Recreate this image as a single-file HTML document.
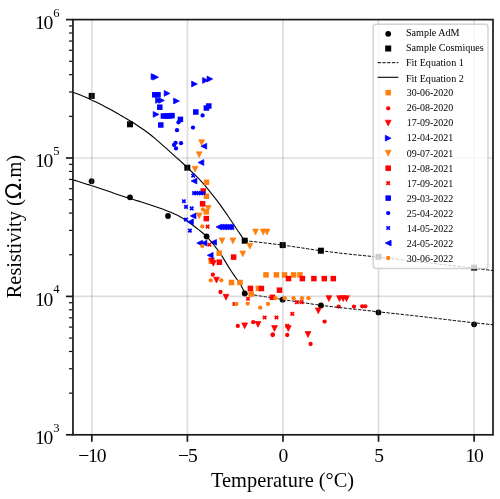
<!DOCTYPE html>
<html><head><meta charset="utf-8"><title>Resistivity vs Temperature</title>
<style>
html,body{margin:0;padding:0;background:#fff}
svg{display:block}
text{font-family:"Liberation Serif","Times New Roman",serif;fill:#000}
.lg{font-size:10.15px}
.tk{font-size:19.6px;letter-spacing:-1.1px}
.ax{font-size:20.4px}
</style></head><body>
<svg width="500" height="499" viewBox="0 0 500 499">
<rect width="500" height="499" fill="#fff"/>
<circle cx="338.70" cy="306.60" r="2.15" fill="#ff0000"/>
<circle cx="354.00" cy="306.60" r="2.15" fill="#ff0000"/>
<circle cx="362.20" cy="306.30" r="2.15" fill="#ff0000"/>
<circle cx="365.30" cy="306.30" r="2.15" fill="#ff0000"/>
<path d="M216.50 239.40V245.20L210.70 242.30Z" fill="#0000ff" stroke="#0000ff" stroke-width="0.7"/>
<path d="M72.5 92.0 L75.5 93.2 L78.5 94.3 L81.5 95.6 L84.5 96.8 L87.5 98.1 L90.5 99.5 L93.5 100.9 L96.5 102.3 L99.5 103.8 L102.5 105.3 L105.5 106.9 L108.5 108.5 L111.5 110.1 L114.5 111.7 L117.5 113.4 L120.5 115.2 L123.5 116.9 L126.5 118.7 L129.5 120.5 L132.5 122.3 L135.5 124.2 L138.5 126.2 L141.5 128.2 L144.5 130.3 L147.5 132.5 L150.5 134.8 L153.5 137.2 L156.5 139.8 L159.5 142.4 L162.5 145.1 L165.5 147.7 L168.5 150.4 L171.5 153.1 L174.5 155.8 L177.5 158.5 L180.5 161.2 L183.5 164.0 L186.5 166.9 L189.5 169.7 L192.5 172.5 L195.5 175.4 L198.5 178.4 L201.5 181.6 L204.5 184.9 L207.5 188.6 L210.5 192.3 L213.5 196.1 L216.5 199.9 L219.5 203.9 L222.5 208.1 L225.5 212.4 L228.5 216.7 L231.5 221.2 L234.5 225.7 L237.5 230.2 L240.5 234.6 L243.5 239.0 L244.6 240.6" fill="none" stroke="#000" stroke-width="1.1"/>
<path d="M72.5 179.7 L75.5 180.6 L78.5 181.6 L81.5 182.5 L84.5 183.4 L87.5 184.4 L90.5 185.3 L93.5 186.3 L96.5 187.3 L99.5 188.3 L102.5 189.3 L105.5 190.3 L108.5 191.3 L111.5 192.3 L114.5 193.4 L117.5 194.4 L120.5 195.4 L123.5 196.4 L126.5 197.4 L129.5 198.3 L132.5 199.3 L135.5 200.2 L138.5 201.1 L141.5 202.0 L144.5 202.9 L147.5 203.9 L150.5 204.9 L153.5 205.9 L156.5 206.9 L159.5 208.0 L162.5 209.1 L165.5 210.2 L168.5 211.4 L171.5 212.6 L174.5 213.9 L177.5 215.3 L180.5 216.9 L183.5 218.7 L186.5 220.6 L189.5 222.7 L192.5 225.0 L195.5 227.3 L198.5 229.6 L201.5 232.0 L204.5 234.5 L207.5 237.4 L210.5 240.8 L213.5 244.5 L216.5 248.3 L219.5 252.4 L222.5 256.9 L225.5 261.9 L228.5 266.9 L231.5 271.5 L234.5 275.9 L237.5 280.2 L240.5 284.2 L243.5 290.2 L244.7 293.5" fill="none" stroke="#000" stroke-width="1.1"/>
<path d="M244.6 240.6 L247.6 240.9 L250.6 241.3 L253.6 241.6 L256.6 241.9 L259.6 242.3 L262.6 242.7 L265.6 243.0 L268.6 243.4 L271.6 243.8 L274.6 244.1 L277.6 244.5 L280.6 244.9 L283.6 245.3 L286.6 245.7 L289.6 246.1 L292.6 246.5 L295.6 247.0 L298.6 247.4 L301.6 247.9 L304.6 248.3 L307.6 248.8 L310.6 249.2 L313.6 249.7 L316.6 250.1 L319.6 250.5 L322.6 250.9 L325.6 251.3 L328.6 251.7 L331.6 252.1 L334.6 252.4 L337.6 252.8 L340.6 253.2 L343.6 253.5 L346.6 253.8 L349.6 254.2 L352.6 254.5 L355.6 254.8 L358.6 255.1 L361.6 255.4 L364.6 255.7 L367.6 256.0 L370.6 256.3 L373.6 256.7 L376.6 257.0 L379.6 257.3 L382.6 257.6 L385.6 258.0 L388.6 258.3 L391.6 258.6 L394.6 259.0 L397.6 259.3 L400.6 259.7 L403.6 260.0 L406.6 260.4 L409.6 260.7 L412.6 261.0 L415.6 261.4 L418.6 261.7 L421.6 262.1 L424.6 262.4 L427.6 262.8 L430.6 263.1 L433.6 263.5 L436.6 263.8 L439.6 264.2 L442.6 264.6 L445.6 264.9 L448.6 265.3 L451.6 265.6 L454.6 266.0 L457.6 266.3 L460.6 266.7 L463.6 267.0 L466.6 267.4 L469.6 267.8 L472.6 268.1 L475.6 268.5 L478.6 268.8 L481.6 269.2 L484.6 269.5 L487.6 269.9 L490.6 270.3 L493.3 270.6" fill="none" stroke="#000" stroke-width="1.0" stroke-dasharray="3.33 1.44"/>
<path d="M244.7 293.5 L247.7 294.0 L250.7 294.5 L253.7 294.9 L256.7 295.4 L259.7 295.9 L262.7 296.4 L265.7 296.8 L268.7 297.3 L271.7 297.8 L274.7 298.2 L277.7 298.7 L280.7 299.2 L283.7 299.6 L286.7 300.1 L289.7 300.6 L292.7 301.0 L295.7 301.5 L298.7 302.0 L301.7 302.5 L304.7 302.9 L307.7 303.4 L310.7 303.8 L313.7 304.3 L316.7 304.7 L319.7 305.1 L322.7 305.5 L325.7 305.9 L328.7 306.3 L331.7 306.6 L334.7 307.0 L337.7 307.3 L340.7 307.7 L343.7 308.0 L346.7 308.3 L349.7 308.7 L352.7 309.0 L355.7 309.3 L358.7 309.6 L361.7 310.0 L364.7 310.3 L367.7 310.6 L370.7 310.9 L373.7 311.3 L376.7 311.6 L379.7 311.9 L382.7 312.3 L385.7 312.6 L388.7 312.9 L391.7 313.3 L394.7 313.6 L397.7 313.9 L400.7 314.2 L403.7 314.6 L406.7 314.9 L409.7 315.2 L412.7 315.6 L415.7 315.9 L418.7 316.3 L421.7 316.6 L424.7 316.9 L427.7 317.3 L430.7 317.7 L433.7 318.0 L436.7 318.4 L439.7 318.7 L442.7 319.1 L445.7 319.5 L448.7 319.8 L451.7 320.2 L454.7 320.6 L457.7 320.9 L460.7 321.3 L463.7 321.6 L466.7 322.0 L469.7 322.3 L472.7 322.6 L475.7 323.0 L478.7 323.3 L481.7 323.6 L484.7 323.9 L487.7 324.2 L490.7 324.5 L493.3 324.7" fill="none" stroke="#000" stroke-width="1.0" stroke-dasharray="3.33 1.44"/>
<circle cx="91.60" cy="181.20" r="2.9" fill="#000000"/>
<circle cx="130.00" cy="197.30" r="2.9" fill="#000000"/>
<circle cx="168.00" cy="216.00" r="2.9" fill="#000000"/>
<circle cx="206.60" cy="236.50" r="2.9" fill="#000000"/>
<circle cx="244.70" cy="293.50" r="2.9" fill="#000000"/>
<circle cx="282.60" cy="299.70" r="2.9" fill="#000000"/>
<circle cx="321.00" cy="305.40" r="2.9" fill="#000000"/>
<circle cx="378.50" cy="312.40" r="2.9" fill="#000000"/>
<circle cx="474.10" cy="324.30" r="2.9" fill="#000000"/>
<rect x="88.70" y="92.90" width="6.0" height="6.0" fill="#000000"/>
<rect x="127.00" y="121.30" width="6.0" height="6.0" fill="#000000"/>
<rect x="184.30" y="164.70" width="6.0" height="6.0" fill="#000000"/>
<rect x="241.70" y="237.70" width="6.0" height="6.0" fill="#000000"/>
<rect x="279.70" y="242.10" width="6.0" height="6.0" fill="#000000"/>
<rect x="317.90" y="247.70" width="6.0" height="6.0" fill="#000000"/>
<rect x="375.50" y="253.80" width="6.0" height="6.0" fill="#000000"/>
<rect x="471.10" y="264.60" width="6.0" height="6.0" fill="#000000"/>
<line x1="91.84" x2="91.84" y1="19.6" y2="434.8" stroke="#808080" stroke-opacity="0.27" stroke-width="1.7"/>
<line x1="187.41" x2="187.41" y1="19.6" y2="434.8" stroke="#808080" stroke-opacity="0.27" stroke-width="1.7"/>
<line x1="282.97" x2="282.97" y1="19.6" y2="434.8" stroke="#808080" stroke-opacity="0.27" stroke-width="1.7"/>
<line x1="378.53" x2="378.53" y1="19.6" y2="434.8" stroke="#808080" stroke-opacity="0.27" stroke-width="1.7"/>
<line x1="474.10" x2="474.10" y1="19.6" y2="434.8" stroke="#808080" stroke-opacity="0.27" stroke-width="1.7"/>
<line x1="72.95" x2="493.0" y1="296.40" y2="296.40" stroke="#808080" stroke-opacity="0.27" stroke-width="1.7"/>
<line x1="72.95" x2="493.0" y1="158.00" y2="158.00" stroke="#808080" stroke-opacity="0.27" stroke-width="1.7"/>
<rect x="203.75" y="179.55" width="5.5" height="5.5" fill="#ff7f0e"/>
<rect x="203.75" y="193.45" width="5.5" height="5.5" fill="#ff7f0e"/>
<rect x="203.55" y="209.05" width="5.5" height="5.5" fill="#ff7f0e"/>
<rect x="216.45" y="250.45" width="5.5" height="5.5" fill="#ff7f0e"/>
<rect x="208.45" y="258.45" width="5.5" height="5.5" fill="#ff7f0e"/>
<rect x="228.75" y="279.75" width="5.5" height="5.5" fill="#ff7f0e"/>
<rect x="237.25" y="279.75" width="5.5" height="5.5" fill="#ff7f0e"/>
<rect x="263.25" y="272.15" width="5.5" height="5.5" fill="#ff7f0e"/>
<rect x="273.65" y="272.15" width="5.5" height="5.5" fill="#ff7f0e"/>
<rect x="281.75" y="272.15" width="5.5" height="5.5" fill="#ff7f0e"/>
<rect x="290.85" y="272.15" width="5.5" height="5.5" fill="#ff7f0e"/>
<rect x="297.25" y="272.15" width="5.5" height="5.5" fill="#ff7f0e"/>
<rect x="248.45" y="291.25" width="5.5" height="5.5" fill="#ff7f0e"/>
<rect x="255.65" y="285.65" width="5.5" height="5.5" fill="#ff7f0e"/>
<circle cx="212.80" cy="274.70" r="2.15" fill="#ff0000"/>
<circle cx="220.50" cy="292.00" r="2.15" fill="#ff0000"/>
<circle cx="237.80" cy="325.90" r="2.15" fill="#ff0000"/>
<circle cx="253.20" cy="322.20" r="2.15" fill="#ff0000"/>
<circle cx="272.60" cy="335.00" r="2.15" fill="#ff0000"/>
<circle cx="287.20" cy="335.00" r="2.15" fill="#ff0000"/>
<circle cx="310.60" cy="344.00" r="2.15" fill="#ff0000"/>
<circle cx="324.60" cy="321.60" r="2.15" fill="#ff0000"/>
<circle cx="272.80" cy="334.50" r="2.15" fill="#ff0000"/>
<path d="M208.70 258.10H214.50L211.60 263.90Z" fill="#ff0000" stroke="#ff0000" stroke-width="0.7"/>
<path d="M210.50 260.40H216.30L213.40 266.20Z" fill="#ff0000" stroke="#ff0000" stroke-width="0.7"/>
<path d="M213.60 277.20H219.40L216.50 283.00Z" fill="#ff0000" stroke="#ff0000" stroke-width="0.7"/>
<path d="M223.10 294.30H228.90L226.00 300.10Z" fill="#ff0000" stroke="#ff0000" stroke-width="0.7"/>
<path d="M241.80 322.90H247.60L244.70 328.70Z" fill="#ff0000" stroke="#ff0000" stroke-width="0.7"/>
<path d="M255.10 321.50H260.90L258.00 327.30Z" fill="#ff0000" stroke="#ff0000" stroke-width="0.7"/>
<path d="M271.60 325.60H277.40L274.50 331.40Z" fill="#ff0000" stroke="#ff0000" stroke-width="0.7"/>
<path d="M285.40 325.60H291.20L288.30 331.40Z" fill="#ff0000" stroke="#ff0000" stroke-width="0.7"/>
<path d="M305.10 331.60H310.90L308.00 337.40Z" fill="#ff0000" stroke="#ff0000" stroke-width="0.7"/>
<path d="M315.40 307.90H321.20L318.30 313.70Z" fill="#ff0000" stroke="#ff0000" stroke-width="0.7"/>
<path d="M326.00 295.70H331.80L328.90 301.50Z" fill="#ff0000" stroke="#ff0000" stroke-width="0.7"/>
<path d="M336.60 295.70H342.40L339.50 301.50Z" fill="#ff0000" stroke="#ff0000" stroke-width="0.7"/>
<path d="M340.20 295.70H346.00L343.10 301.50Z" fill="#ff0000" stroke="#ff0000" stroke-width="0.7"/>
<path d="M343.60 295.70H349.40L346.50 301.50Z" fill="#ff0000" stroke="#ff0000" stroke-width="0.7"/>
<path d="M151.10 73.70V79.50L156.90 76.60Z" fill="#0000ff" stroke="#0000ff" stroke-width="0.7"/>
<path d="M152.70 74.30V80.10L158.50 77.20Z" fill="#0000ff" stroke="#0000ff" stroke-width="0.7"/>
<path d="M191.60 81.10V86.90L197.40 84.00Z" fill="#0000ff" stroke="#0000ff" stroke-width="0.7"/>
<path d="M202.60 77.50V83.30L208.40 80.40Z" fill="#0000ff" stroke="#0000ff" stroke-width="0.7"/>
<path d="M207.00 76.10V81.90L212.80 79.00Z" fill="#0000ff" stroke="#0000ff" stroke-width="0.7"/>
<path d="M164.20 90.50V96.30L170.00 93.40Z" fill="#0000ff" stroke="#0000ff" stroke-width="0.7"/>
<path d="M173.60 98.10V103.90L179.40 101.00Z" fill="#0000ff" stroke="#0000ff" stroke-width="0.7"/>
<path d="M155.60 97.50V103.30L161.40 100.40Z" fill="#0000ff" stroke="#0000ff" stroke-width="0.7"/>
<path d="M158.60 97.50V103.30L164.40 100.40Z" fill="#0000ff" stroke="#0000ff" stroke-width="0.7"/>
<path d="M153.20 111.50V117.30L159.00 114.40Z" fill="#0000ff" stroke="#0000ff" stroke-width="0.7"/>
<path d="M198.70 139.70H204.50L201.60 145.50Z" fill="#ff7f0e" stroke="#ff7f0e" stroke-width="0.7"/>
<path d="M196.30 151.80H202.10L199.20 157.60Z" fill="#ff7f0e" stroke="#ff7f0e" stroke-width="0.7"/>
<path d="M192.20 166.30H198.00L195.10 172.10Z" fill="#ff7f0e" stroke="#ff7f0e" stroke-width="0.7"/>
<path d="M205.30 205.40H211.10L208.20 211.20Z" fill="#ff7f0e" stroke="#ff7f0e" stroke-width="0.7"/>
<path d="M196.30 212.90H202.10L199.20 218.70Z" fill="#ff7f0e" stroke="#ff7f0e" stroke-width="0.7"/>
<path d="M219.10 237.90H224.90L222.00 243.70Z" fill="#ff7f0e" stroke="#ff7f0e" stroke-width="0.7"/>
<path d="M230.00 237.90H235.80L232.90 243.70Z" fill="#ff7f0e" stroke="#ff7f0e" stroke-width="0.7"/>
<path d="M246.90 243.30H252.70L249.80 249.10Z" fill="#ff7f0e" stroke="#ff7f0e" stroke-width="0.7"/>
<path d="M239.90 251.00H245.70L242.80 256.80Z" fill="#ff7f0e" stroke="#ff7f0e" stroke-width="0.7"/>
<path d="M252.60 229.10H258.40L255.50 234.90Z" fill="#ff7f0e" stroke="#ff7f0e" stroke-width="0.7"/>
<path d="M260.30 229.10H266.10L263.20 234.90Z" fill="#ff7f0e" stroke="#ff7f0e" stroke-width="0.7"/>
<path d="M264.10 229.10H269.90L267.00 234.90Z" fill="#ff7f0e" stroke="#ff7f0e" stroke-width="0.7"/>
<rect x="200.45" y="188.25" width="5.5" height="5.5" fill="#ff0000"/>
<rect x="199.85" y="201.05" width="5.5" height="5.5" fill="#ff0000"/>
<rect x="203.55" y="215.85" width="5.5" height="5.5" fill="#ff0000"/>
<rect x="230.85" y="254.35" width="5.5" height="5.5" fill="#ff0000"/>
<rect x="216.65" y="259.45" width="5.5" height="5.5" fill="#ff0000"/>
<rect x="247.65" y="285.65" width="5.5" height="5.5" fill="#ff0000"/>
<rect x="258.65" y="285.75" width="5.5" height="5.5" fill="#ff0000"/>
<rect x="276.75" y="287.45" width="5.5" height="5.5" fill="#ff0000"/>
<rect x="269.65" y="294.55" width="5.5" height="5.5" fill="#ff0000"/>
<rect x="285.75" y="275.85" width="5.5" height="5.5" fill="#ff0000"/>
<rect x="299.65" y="275.85" width="5.5" height="5.5" fill="#ff0000"/>
<rect x="311.15" y="275.85" width="5.5" height="5.5" fill="#ff0000"/>
<rect x="321.55" y="275.85" width="5.5" height="5.5" fill="#ff0000"/>
<rect x="330.55" y="275.85" width="5.5" height="5.5" fill="#ff0000"/>
<path d="M205.90 224.90L209.30 228.30M205.90 228.30L209.30 224.90" stroke="#ff0000" stroke-width="1.75" fill="none"/>
<path d="M207.60 243.00L211.00 246.40M207.60 246.40L211.00 243.00" stroke="#ff0000" stroke-width="1.75" fill="none"/>
<path d="M232.70 302.30L236.10 305.70M232.70 305.70L236.10 302.30" stroke="#ff0000" stroke-width="1.75" fill="none"/>
<path d="M246.30 297.10L249.70 300.50M246.30 300.50L249.70 297.10" stroke="#ff0000" stroke-width="1.75" fill="none"/>
<path d="M262.90 315.80L266.30 319.20M262.90 319.20L266.30 315.80" stroke="#ff0000" stroke-width="1.75" fill="none"/>
<path d="M274.80 315.80L278.20 319.20M274.80 319.20L278.20 315.80" stroke="#ff0000" stroke-width="1.75" fill="none"/>
<path d="M295.10 300.40L298.50 303.80M295.10 303.80L298.50 300.40" stroke="#ff0000" stroke-width="1.75" fill="none"/>
<path d="M299.90 300.40L303.30 303.80M299.90 303.80L303.30 300.40" stroke="#ff0000" stroke-width="1.75" fill="none"/>
<path d="M290.60 312.20L294.00 315.60M290.60 315.60L294.00 312.20" stroke="#ff0000" stroke-width="1.75" fill="none"/>
<path d="M285.50 324.00L288.90 327.40M285.50 327.40L288.90 324.00" stroke="#ff0000" stroke-width="1.75" fill="none"/>
<rect x="152.05" y="92.05" width="5.5" height="5.5" fill="#0000ff"/>
<rect x="155.25" y="92.05" width="5.5" height="5.5" fill="#0000ff"/>
<rect x="157.05" y="104.45" width="5.5" height="5.5" fill="#0000ff"/>
<rect x="160.65" y="113.25" width="5.5" height="5.5" fill="#0000ff"/>
<rect x="163.65" y="113.25" width="5.5" height="5.5" fill="#0000ff"/>
<rect x="166.65" y="113.25" width="5.5" height="5.5" fill="#0000ff"/>
<rect x="169.25" y="112.85" width="5.5" height="5.5" fill="#0000ff"/>
<rect x="158.05" y="122.25" width="5.5" height="5.5" fill="#0000ff"/>
<rect x="177.65" y="116.65" width="5.5" height="5.5" fill="#0000ff"/>
<rect x="193.05" y="109.25" width="5.5" height="5.5" fill="#0000ff"/>
<rect x="203.65" y="105.25" width="5.5" height="5.5" fill="#0000ff"/>
<rect x="206.05" y="103.25" width="5.5" height="5.5" fill="#0000ff"/>
<circle cx="178.50" cy="122.30" r="2.15" fill="#0000ff"/>
<circle cx="202.60" cy="115.40" r="2.15" fill="#0000ff"/>
<circle cx="193.00" cy="127.60" r="2.15" fill="#0000ff"/>
<circle cx="177.00" cy="130.20" r="2.15" fill="#0000ff"/>
<circle cx="174.10" cy="145.00" r="2.15" fill="#0000ff"/>
<circle cx="175.60" cy="142.80" r="2.15" fill="#0000ff"/>
<circle cx="181.00" cy="143.20" r="2.15" fill="#0000ff"/>
<circle cx="176.00" cy="148.40" r="2.15" fill="#0000ff"/>
<path d="M191.50 173.90L194.90 177.30M191.50 177.30L194.90 173.90" stroke="#0000ff" stroke-width="1.75" fill="none"/>
<path d="M192.30 191.40L195.70 194.80M192.30 194.80L195.70 191.40" stroke="#0000ff" stroke-width="1.75" fill="none"/>
<path d="M194.60 191.40L198.00 194.80M194.60 194.80L198.00 191.40" stroke="#0000ff" stroke-width="1.75" fill="none"/>
<path d="M196.90 191.40L200.30 194.80M196.90 194.80L200.30 191.40" stroke="#0000ff" stroke-width="1.75" fill="none"/>
<path d="M199.20 191.40L202.60 194.80M199.20 194.80L202.60 191.40" stroke="#0000ff" stroke-width="1.75" fill="none"/>
<path d="M201.50 191.40L204.90 194.80M201.50 194.80L204.90 191.40" stroke="#0000ff" stroke-width="1.75" fill="none"/>
<path d="M182.20 199.50L185.60 202.90M182.20 202.90L185.60 199.50" stroke="#0000ff" stroke-width="1.75" fill="none"/>
<path d="M184.30 205.20L187.70 208.60M184.30 208.60L187.70 205.20" stroke="#0000ff" stroke-width="1.75" fill="none"/>
<path d="M190.00 206.70L193.40 210.10M190.00 210.10L193.40 206.70" stroke="#0000ff" stroke-width="1.75" fill="none"/>
<path d="M188.20 228.90L191.60 232.30M188.20 232.30L191.60 228.90" stroke="#0000ff" stroke-width="1.75" fill="none"/>
<path d="M184.30 217.90L187.70 221.30M184.30 221.30L187.70 217.90" stroke="#0000ff" stroke-width="1.75" fill="none"/>
<path d="M206.70 143.30V149.10L200.90 146.20Z" fill="#0000ff" stroke="#0000ff" stroke-width="0.7"/>
<path d="M203.80 159.60V165.40L198.00 162.50Z" fill="#0000ff" stroke="#0000ff" stroke-width="0.7"/>
<path d="M196.90 178.10V183.90L191.10 181.00Z" fill="#0000ff" stroke="#0000ff" stroke-width="0.7"/>
<path d="M196.00 213.00V218.80L190.20 215.90Z" fill="#0000ff" stroke="#0000ff" stroke-width="0.7"/>
<path d="M193.40 219.00V224.80L187.60 221.90Z" fill="#0000ff" stroke="#0000ff" stroke-width="0.7"/>
<path d="M221.80 224.10V229.90L216.00 227.00Z" fill="#0000ff" stroke="#0000ff" stroke-width="0.7"/>
<path d="M224.20 224.10V229.90L218.40 227.00Z" fill="#0000ff" stroke="#0000ff" stroke-width="0.7"/>
<path d="M226.60 224.10V229.90L220.80 227.00Z" fill="#0000ff" stroke="#0000ff" stroke-width="0.7"/>
<path d="M229.00 224.10V229.90L223.20 227.00Z" fill="#0000ff" stroke="#0000ff" stroke-width="0.7"/>
<path d="M231.40 224.10V229.90L225.60 227.00Z" fill="#0000ff" stroke="#0000ff" stroke-width="0.7"/>
<path d="M233.80 224.10V229.90L228.00 227.00Z" fill="#0000ff" stroke="#0000ff" stroke-width="0.7"/>
<path d="M202.50 240.20V246.00L196.70 243.10Z" fill="#0000ff" stroke="#0000ff" stroke-width="0.7"/>
<path d="M206.90 240.20V246.00L201.10 243.10Z" fill="#0000ff" stroke="#0000ff" stroke-width="0.7"/>
<path d="M213.10 252.40V258.20L207.30 255.30Z" fill="#0000ff" stroke="#0000ff" stroke-width="0.7"/>
<circle cx="202.80" cy="209.40" r="2.15" fill="#ff7f0e"/>
<circle cx="202.30" cy="226.40" r="2.15" fill="#ff7f0e"/>
<circle cx="202.30" cy="246.10" r="2.15" fill="#ff7f0e"/>
<circle cx="210.70" cy="280.40" r="2.15" fill="#ff7f0e"/>
<circle cx="221.30" cy="280.30" r="2.15" fill="#ff7f0e"/>
<circle cx="236.50" cy="304.00" r="2.15" fill="#ff7f0e"/>
<circle cx="247.70" cy="303.60" r="2.15" fill="#ff7f0e"/>
<circle cx="260.20" cy="307.70" r="2.15" fill="#ff7f0e"/>
<circle cx="268.00" cy="304.00" r="2.15" fill="#ff7f0e"/>
<circle cx="275.40" cy="298.20" r="2.15" fill="#ff7f0e"/>
<circle cx="284.80" cy="298.20" r="2.15" fill="#ff7f0e"/>
<circle cx="293.60" cy="298.20" r="2.15" fill="#ff7f0e"/>
<circle cx="302.00" cy="298.20" r="2.15" fill="#ff7f0e"/>
<circle cx="308.50" cy="298.20" r="2.15" fill="#ff7f0e"/>
<line x1="91.84" x2="91.84" y1="434.8" y2="441.8" stroke="#1a1a1a" stroke-width="1.7"/>
<line x1="187.41" x2="187.41" y1="434.8" y2="441.8" stroke="#1a1a1a" stroke-width="1.7"/>
<line x1="282.97" x2="282.97" y1="434.8" y2="441.8" stroke="#1a1a1a" stroke-width="1.7"/>
<line x1="378.53" x2="378.53" y1="434.8" y2="441.8" stroke="#1a1a1a" stroke-width="1.7"/>
<line x1="474.10" x2="474.10" y1="434.8" y2="441.8" stroke="#1a1a1a" stroke-width="1.7"/>
<line x1="65.95" x2="72.95" y1="434.80" y2="434.80" stroke="#1a1a1a" stroke-width="1.7"/>
<line x1="65.95" x2="72.95" y1="296.40" y2="296.40" stroke="#1a1a1a" stroke-width="1.7"/>
<line x1="65.95" x2="72.95" y1="158.00" y2="158.00" stroke="#1a1a1a" stroke-width="1.7"/>
<line x1="65.95" x2="72.95" y1="19.60" y2="19.60" stroke="#1a1a1a" stroke-width="1.7"/>
<line x1="68.95" x2="72.95" y1="393.14" y2="393.14" stroke="#111" stroke-width="1.2"/>
<line x1="68.95" x2="72.95" y1="368.77" y2="368.77" stroke="#111" stroke-width="1.2"/>
<line x1="68.95" x2="72.95" y1="351.47" y2="351.47" stroke="#111" stroke-width="1.2"/>
<line x1="68.95" x2="72.95" y1="338.06" y2="338.06" stroke="#111" stroke-width="1.2"/>
<line x1="68.95" x2="72.95" y1="327.10" y2="327.10" stroke="#111" stroke-width="1.2"/>
<line x1="68.95" x2="72.95" y1="317.84" y2="317.84" stroke="#111" stroke-width="1.2"/>
<line x1="68.95" x2="72.95" y1="309.81" y2="309.81" stroke="#111" stroke-width="1.2"/>
<line x1="68.95" x2="72.95" y1="302.73" y2="302.73" stroke="#111" stroke-width="1.2"/>
<line x1="68.95" x2="72.95" y1="254.74" y2="254.74" stroke="#111" stroke-width="1.2"/>
<line x1="68.95" x2="72.95" y1="230.37" y2="230.37" stroke="#111" stroke-width="1.2"/>
<line x1="68.95" x2="72.95" y1="213.07" y2="213.07" stroke="#111" stroke-width="1.2"/>
<line x1="68.95" x2="72.95" y1="199.66" y2="199.66" stroke="#111" stroke-width="1.2"/>
<line x1="68.95" x2="72.95" y1="188.70" y2="188.70" stroke="#111" stroke-width="1.2"/>
<line x1="68.95" x2="72.95" y1="179.44" y2="179.44" stroke="#111" stroke-width="1.2"/>
<line x1="68.95" x2="72.95" y1="171.41" y2="171.41" stroke="#111" stroke-width="1.2"/>
<line x1="68.95" x2="72.95" y1="164.33" y2="164.33" stroke="#111" stroke-width="1.2"/>
<line x1="68.95" x2="72.95" y1="116.34" y2="116.34" stroke="#111" stroke-width="1.2"/>
<line x1="68.95" x2="72.95" y1="91.97" y2="91.97" stroke="#111" stroke-width="1.2"/>
<line x1="68.95" x2="72.95" y1="74.67" y2="74.67" stroke="#111" stroke-width="1.2"/>
<line x1="68.95" x2="72.95" y1="61.26" y2="61.26" stroke="#111" stroke-width="1.2"/>
<line x1="68.95" x2="72.95" y1="50.30" y2="50.30" stroke="#111" stroke-width="1.2"/>
<line x1="68.95" x2="72.95" y1="41.04" y2="41.04" stroke="#111" stroke-width="1.2"/>
<line x1="68.95" x2="72.95" y1="33.01" y2="33.01" stroke="#111" stroke-width="1.2"/>
<line x1="68.95" x2="72.95" y1="25.93" y2="25.93" stroke="#111" stroke-width="1.2"/>
<rect x="373.2" y="24.3" width="114.8" height="244.1" rx="2.8" fill="#fff" fill-opacity="0.8" stroke="#ccc" stroke-opacity="0.85" stroke-width="1.5"/>
<circle cx="388.20" cy="33.80" r="2.9" fill="#000000"/>
<text x="405.9" y="36.20" class="lg">Sample AdM</text>
<rect x="385.20" y="45.50" width="6.0" height="6.0" fill="#000000"/>
<text x="405.9" y="51.00" class="lg">Sample Cosmiques</text>
<line x1="377.6" x2="398.4" y1="62.7" y2="62.7" stroke="#000" stroke-width="1.0" stroke-dasharray="3.33 1.44"/>
<text x="405.9" y="66.40" class="lg">Fit Equation 1</text>
<line x1="377.6" x2="398.4" y1="77.3" y2="77.3" stroke="#000" stroke-width="1.1"/>
<text x="405.9" y="81.65" class="lg">Fit Equation 2</text>
<rect x="385.45" y="89.90" width="5.5" height="5.5" fill="#ff7f0e"/>
<text x="406.7" y="95.75" class="lg" style="font-size:9.98px">30-06-2020</text>
<circle cx="388.20" cy="108.35" r="2.15" fill="#ff0000"/>
<text x="406.7" y="111.25" class="lg" style="font-size:9.98px">26-08-2020</text>
<path d="M385.30 120.20H391.10L388.20 126.00Z" fill="#ff0000" stroke="#ff0000" stroke-width="0.7"/>
<text x="406.7" y="126.20" class="lg" style="font-size:9.98px">17-09-2020</text>
<path d="M385.30 135.30V141.10L391.10 138.20Z" fill="#0000ff" stroke="#0000ff" stroke-width="0.7"/>
<text x="406.7" y="141.20" class="lg" style="font-size:9.98px">12-04-2021</text>
<path d="M385.30 150.30H391.10L388.20 156.10Z" fill="#ff7f0e" stroke="#ff7f0e" stroke-width="0.7"/>
<text x="406.7" y="157.00" class="lg" style="font-size:9.98px">09-07-2021</text>
<rect x="385.45" y="165.45" width="5.5" height="5.5" fill="#ff0000"/>
<text x="406.7" y="172.20" class="lg" style="font-size:9.98px">12-08-2021</text>
<path d="M386.50 181.45L389.90 184.85M386.50 184.85L389.90 181.45" stroke="#ff0000" stroke-width="1.75" fill="none"/>
<text x="406.7" y="186.80" class="lg" style="font-size:9.98px">17-09-2021</text>
<rect x="385.45" y="195.35" width="5.5" height="5.5" fill="#0000ff"/>
<text x="406.7" y="201.80" class="lg" style="font-size:9.98px">29-03-2022</text>
<circle cx="388.20" cy="213.10" r="2.15" fill="#0000ff"/>
<text x="406.7" y="217.00" class="lg" style="font-size:9.98px">25-04-2022</text>
<path d="M386.50 226.35L389.90 229.75M386.50 229.75L389.90 226.35" stroke="#0000ff" stroke-width="1.75" fill="none"/>
<text x="406.7" y="232.00" class="lg" style="font-size:9.98px">14-05-2022</text>
<path d="M391.10 240.20V246.00L385.30 243.10Z" fill="#0000ff" stroke="#0000ff" stroke-width="0.7"/>
<text x="406.7" y="247.20" class="lg" style="font-size:9.98px">24-05-2022</text>
<circle cx="388.20" cy="258.00" r="2.15" fill="#ff7f0e"/>
<text x="406.7" y="262.15" class="lg" style="font-size:9.98px">30-06-2022</text>
<rect x="72.95" y="19.6" width="420.05" height="415.2" fill="none" stroke="#1a1a1a" stroke-width="1.7"/>
<text x="91.84" y="461.6" text-anchor="middle" class="tk">−10</text>
<text x="187.41" y="461.6" text-anchor="middle" class="tk">−5</text>
<text x="282.97" y="461.6" text-anchor="middle" class="tk">0</text>
<text x="378.53" y="461.6" text-anchor="middle" class="tk">5</text>
<text x="474.10" y="461.6" text-anchor="middle" class="tk">10</text>
<text x="52.3" y="444.10" text-anchor="end" class="tk">10</text><text x="53.3" y="431.70" class="tk" style="font-size:12.6px;letter-spacing:0">3</text>
<text x="52.3" y="305.70" text-anchor="end" class="tk">10</text><text x="53.3" y="293.30" class="tk" style="font-size:12.6px;letter-spacing:0">4</text>
<text x="52.3" y="167.30" text-anchor="end" class="tk">10</text><text x="53.3" y="154.90" class="tk" style="font-size:12.6px;letter-spacing:0">5</text>
<text x="52.3" y="28.90" text-anchor="end" class="tk">10</text><text x="53.3" y="16.50" class="tk" style="font-size:12.6px;letter-spacing:0">6</text>
<text x="282.6" y="486.8" text-anchor="middle" class="ax">Temperature (°C)</text>
<text transform="translate(20.5 226.6) rotate(-90)" text-anchor="middle" class="ax">Resistivity (<tspan font-family="DejaVu Sans, sans-serif" font-size="21.5">Ω</tspan>.m)</text>
</svg>
</body></html>
